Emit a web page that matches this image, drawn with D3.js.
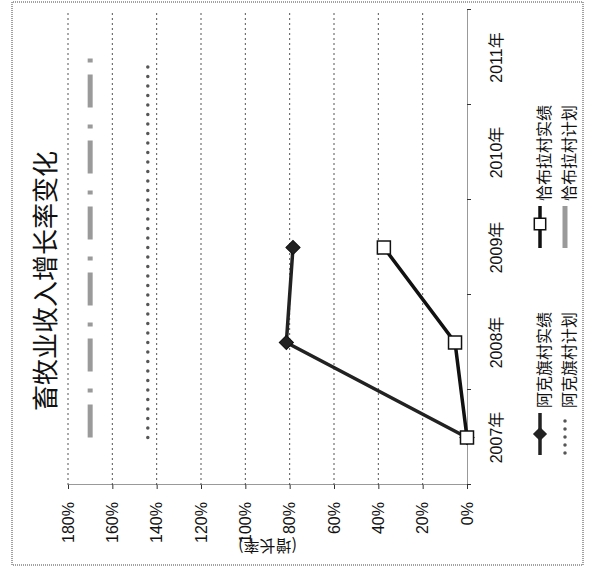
<!DOCTYPE html>
<html><head><meta charset="utf-8">
<script src="https://cdn.jsdelivr.net/npm/d3@7/dist/d3.min.js"></script>
<style>body{margin:0;background:#fff}svg{display:block}</style>
</head><body>
<svg id="c" width="592" height="569"></svg>
<script>
// ---- data ----
const years = ["2007年", "2008年", "2009年", "2010年", "2011年"];
const yTicks = [0, 20, 40, 60, 80, 100, 120, 140, 160, 180];
const akeActual = [0, 81.5, 78.5];          // 阿克旗村实绩
const chabulaActual = [0, 5.4, 37.5];       // 恰布拉村实绩
const akePlan = [144, 144, 144, 144, 144];  // 阿克旗村计划
const chabulaPlan = [170, 170, 170, 170, 170]; // 恰布拉村计划
const seriesNames = ["阿克旗村实绩", "阿克旗村计划", "恰布拉村实绩", "恰布拉村计划"];
const titleText = "畜牧业收入增长率变化";
const yTitle = "(增长率)";

// ---- drawing (chart drawn in its own frame, then turned a quarter turn) ----
const W = 569, H = 592;
const svg = d3.select("#c");
const g = svg.append("g").attr("transform", `translate(0,${W}) rotate(-90)`);
const numFont = "'Liberation Sans', 'Noto Sans CJK SC', sans-serif";
const cjkFont = "'Noto Sans CJK SC', sans-serif";

// outer border
g.append("rect").attr("x", 4).attr("y", 12).attr("width", 563).attr("height", 571)
  .attr("fill", "none").attr("stroke", "#444").attr("stroke-width", 1).attr("stroke-dasharray", "1,1");

const x = d3.scaleBand().domain(years).range([84, 559]);
const y = d3.scaleLinear().domain([0, 180]).range([467, 68]);
const xb = d3.scaleLinear().domain([0, years.length]).range([84, 559]);

// gridlines
g.append("g").selectAll("line").data(yTicks.filter(t => t > 0)).join("line")
  .attr("x1", 84).attr("x2", 559).attr("y1", d => y(d)).attr("y2", d => y(d))
  .attr("stroke", "#555").attr("stroke-width", 1).attr("stroke-dasharray", "2,3");

// x axis (category)
const xAxisTicks = g.append("g").attr("transform", `translate(0,${y(0)})`)
  .call(d3.axisBottom(xb).tickValues(d3.range(years.length + 1)).tickFormat("").tickSize(4).tickSizeOuter(0));
xAxisTicks.select(".domain").attr("stroke", "#333").attr("stroke-dasharray", "1,1");
xAxisTicks.selectAll(".tick line").attr("stroke", "#333");
const xAxisLabels = g.append("g").attr("transform", `translate(0,${y(0)})`)
  .call(d3.axisBottom(x).tickSize(0).tickPadding(30));
xAxisLabels.select(".domain").remove();
xAxisLabels.selectAll("text").attr("font-family", numFont).attr("font-size", 16).attr("fill", "#111").attr("dy", "0.32em");

// y axis
const yAxis = g.append("g").attr("transform", `translate(84,0)`)
  .call(d3.axisLeft(y).tickValues(yTicks).tickFormat(d => d + "%").tickSize(4).tickSizeOuter(0).tickPadding(13));
yAxis.select(".domain").attr("stroke", "#333").attr("stroke-dasharray", "1,1");
yAxis.selectAll(".tick line").attr("stroke", "#333");
yAxis.selectAll("text").attr("font-family", numFont).attr("font-size", 16).attr("fill", "#111");

// y title
g.append("text").attr("transform", `translate(29,${(y(0) + y(180)) / 2}) rotate(-90)`)
  .attr("text-anchor", "middle").attr("font-family", cjkFont).attr("font-size", 16).attr("fill", "#111")
  .text(yTitle);

// title
g.append("text").attr("x", 288).attr("y", 55).attr("text-anchor", "middle")
  .attr("font-family", cjkFont).attr("font-size", 26).attr("fill", "#111").text(titleText);

const line = d3.line().x((d, i) => x(years[i]) + x.bandwidth() / 2).y(d => y(d));

// plan lines
g.append("path").datum(chabulaPlan).attr("d", line).attr("fill", "none")
  .attr("stroke", "#9a9a9a").attr("stroke-width", 5).attr("stroke-dasharray", "33,12,4,17");
g.append("path").datum(akePlan).attr("d", line).attr("fill", "none")
  .attr("stroke", "#555").attr("stroke-width", 3.5).attr("stroke-linecap", "round").attr("stroke-dasharray", "0,9.5");

// actual lines
g.append("path").datum(akeActual).attr("d", line).attr("fill", "none")
  .attr("stroke", "#222").attr("stroke-width", 3.5);
g.append("path").datum(chabulaActual).attr("d", line).attr("fill", "none")
  .attr("stroke", "#111").attr("stroke-width", 3.5);

const diamond = d3.symbol().type(d3.symbolSquare).size(100);
const square = d3.symbol().type(d3.symbolSquare).size(169);
g.append("g").selectAll("path").data(akeActual).join("path")
  .attr("d", diamond)
  .attr("transform", (d, i) => `translate(${x(years[i]) + x.bandwidth() / 2},${y(d)}) rotate(45)`)
  .attr("fill", "#222").attr("stroke", "#111");
g.append("g").selectAll("path").data(chabulaActual).join("path")
  .attr("d", square)
  .attr("transform", (d, i) => `translate(${x(years[i]) + x.bandwidth() / 2},${y(d)})`)
  .attr("fill", "#fff").attr("stroke", "#111").attr("stroke-width", 1.5);

// legend
const legend = [
  {name: seriesNames[0], x0: 114, row: 0, kind: "ake"},
  {name: seriesNames[1], x0: 114, row: 1, kind: "akePlan"},
  {name: seriesNames[2], x0: 321, row: 0, kind: "cha"},
  {name: seriesNames[3], x0: 321, row: 1, kind: "chaPlan"}
];
const rowY = [540, 565];
legend.forEach(l => {
  const ly = rowY[l.row];
  const lg = g.append("g");
  if (l.kind === "ake") {
    lg.append("line").attr("x1", l.x0).attr("x2", l.x0 + 42).attr("y1", ly).attr("y2", ly).attr("stroke", "#222").attr("stroke-width", 3.5);
    lg.append("path").attr("d", diamond).attr("transform", `translate(${l.x0 + 21},${ly}) rotate(45)`).attr("fill", "#222");
  } else if (l.kind === "akePlan") {
    lg.append("line").attr("x1", l.x0 + 2).attr("x2", l.x0 + 42).attr("y1", ly).attr("y2", ly).attr("stroke", "#555")
      .attr("stroke-width", 3.5).attr("stroke-linecap", "round").attr("stroke-dasharray", "0,8");
  } else if (l.kind === "cha") {
    lg.append("line").attr("x1", l.x0).attr("x2", l.x0 + 42).attr("y1", ly).attr("y2", ly).attr("stroke", "#111").attr("stroke-width", 3.5);
    lg.append("path").attr("d", d3.symbol().type(d3.symbolSquare).size(130)).attr("transform", `translate(${l.x0 + 24},${ly})`)
      .attr("fill", "#fff").attr("stroke", "#111").attr("stroke-width", 1.5);
  } else {
    lg.append("line").attr("x1", l.x0).attr("x2", l.x0 + 42).attr("y1", ly).attr("y2", ly).attr("stroke", "#9a9a9a").attr("stroke-width", 5);
  }
  lg.append("text").attr("x", l.x0 + 47).attr("y", ly + 3).attr("dominant-baseline", "central")
    .attr("font-family", cjkFont).attr("font-size", 16).attr("fill", "#111").text(l.name);
});
</script>
</body></html>
